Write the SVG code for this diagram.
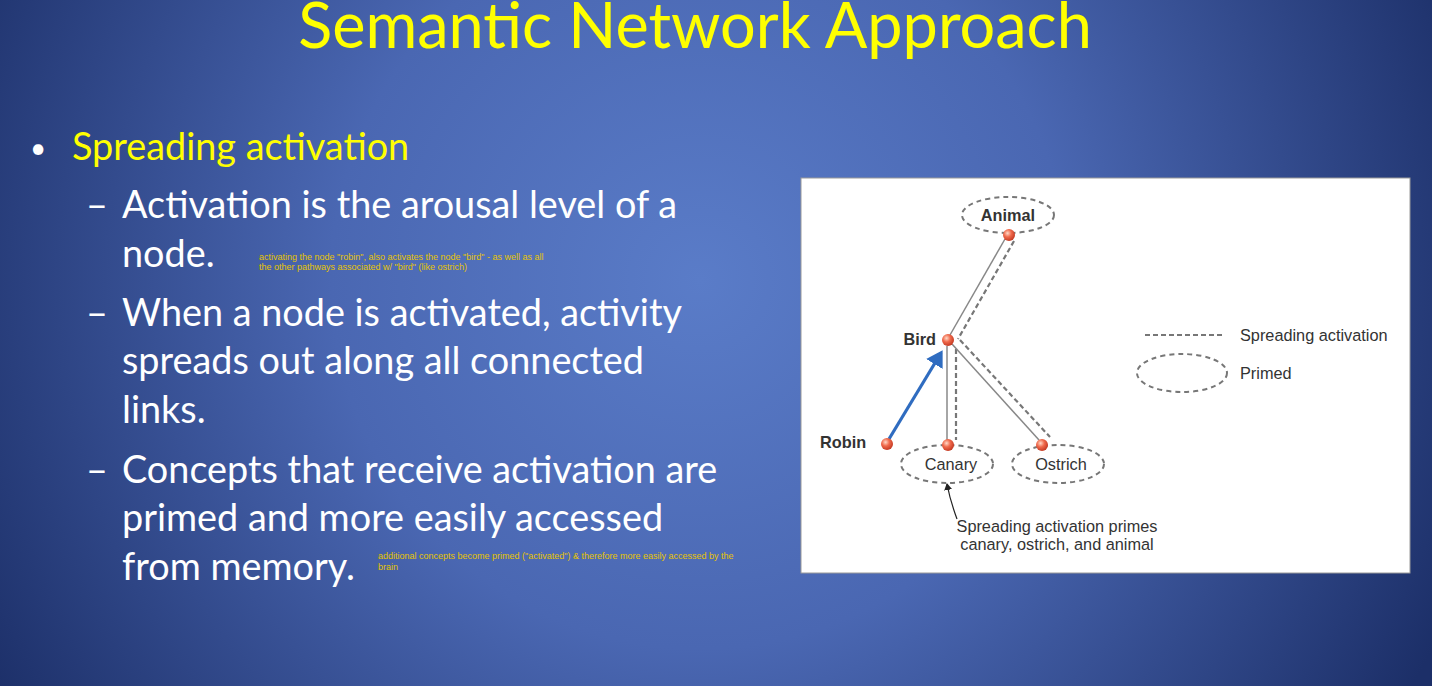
<svg xmlns="http://www.w3.org/2000/svg" width="1432" height="686" viewBox="0 0 1432 686">
<defs>
<radialGradient id="bg" cx="700" cy="280" r="820" gradientUnits="userSpaceOnUse">
<stop offset="0" stop-color="#5a7cc8"/><stop offset="0.45" stop-color="#4a67b2"/><stop offset="1" stop-color="#1c2f68"/>
</radialGradient>
<radialGradient id="dot" cx="0.38" cy="0.35" r="0.7">
<stop offset="0" stop-color="#ffd9c8"/><stop offset="0.45" stop-color="#f06a4c"/><stop offset="1" stop-color="#c0351f"/>
</radialGradient>
<marker id="ah" markerWidth="6" markerHeight="6" refX="4" refY="3" orient="auto" markerUnits="strokeWidth">
<path d="M0,0 L5,3 L0,6 z" fill="#2f6cc0"/></marker>
<marker id="ah2" markerWidth="8" markerHeight="8" refX="6" refY="4" orient="auto" markerUnits="userSpaceOnUse">
<path d="M0,0 L7,4 L0,8 z" fill="#222"/></marker>
</defs>
<style>
.t{font-family:Lato,"Open Sans",sans-serif;fill:#fff;font-size:37.8px}
.y{fill:#ffff00}
.n{font-family:"Liberation Sans",Arial,sans-serif;fill:#e6c400;font-size:9px}
.d{font-family:"Liberation Sans",Arial,sans-serif;fill:#333;font-size:16.3px}
.b{font-weight:bold}
.pr{fill:none;stroke:#777;stroke-width:2;stroke-dasharray:5,4}
.sl{stroke:#888;stroke-width:1.5;fill:none}
.ds{stroke:#777;stroke-width:2.2;stroke-dasharray:5,3;fill:none}
</style>
<rect width="1432" height="686" fill="url(#bg)"/>
<text x="695" y="48" text-anchor="middle" class="t y" style="font-size:63px">Semantic Network Approach</text>
<text x="30" y="158" class="t" style="font-size:28px">•</text>
<text x="72" y="160" class="t y">Spreading activation</text>
<text x="86" y="218" class="t">–</text><text x="122" y="218" class="t">Activation is the arousal level of a</text>
<text x="122" y="267" class="t">node.</text>
<text x="259" y="260" class="n">activating the node "robin", also activates the node "bird" - as well as all</text>
<text x="259" y="270" class="n">the other pathways associated w/ "bird" (like ostrich)</text>
<text x="86" y="326" class="t">–</text><text x="122" y="326" class="t">When a node is activated, activity</text>
<text x="122" y="374" class="t">spreads out along all connected</text>
<text x="122" y="423" class="t">links.</text>
<text x="86" y="483" class="t">–</text><text x="122" y="483" class="t">Concepts that receive activation are</text>
<text x="122" y="531" class="t">primed and more easily accessed</text>
<text x="122" y="580" class="t">from memory.</text>
<text x="378" y="559" class="n">additional concepts become primed ("activated") &amp; therefore more easily accessed by the</text>
<text x="378" y="570" class="n">brain</text>
<rect x="801" y="178" width="609" height="395" fill="#fff" stroke="#999" stroke-width="1"/>
<g id="connectors">
<line x1="1005" y1="239" x2="950" y2="335" class="sl"/>
<line x1="1014" y1="241" x2="958" y2="339" class="ds"/>
<line x1="947" y1="346" x2="947" y2="440" class="sl"/>
<line x1="956" y1="349" x2="956" y2="440" class="ds"/>
<line x1="952" y1="344" x2="1039" y2="440" class="sl"/>
<line x1="960" y1="340" x2="1050" y2="437" class="ds"/>
<line x1="889" y1="439" x2="941" y2="353" stroke="#2f6cc0" stroke-width="3.2" marker-end="url(#ah)"/>
<path d="M957,519 Q950,500 947,484" fill="none" stroke="#222" stroke-width="1.2" marker-end="url(#ah2)"/>
</g>
<g id="animal"><ellipse cx="1008" cy="215" rx="46" ry="18" class="pr"/><text x="1008" y="221" text-anchor="middle" class="d b">Animal</text><circle cx="1009" cy="235" r="6" fill="url(#dot)"/></g>
<g id="bird"><text x="936" y="345" text-anchor="end" class="d b">Bird</text><circle cx="948" cy="340" r="6" fill="url(#dot)"/></g>
<g id="robin"><text x="820" y="448" class="d b">Robin</text><circle cx="887" cy="444" r="6" fill="url(#dot)"/></g>
<g id="canary"><ellipse cx="947" cy="464" rx="46" ry="19" class="pr"/><text x="951" y="470" text-anchor="middle" class="d">Canary</text><circle cx="948" cy="445" r="6" fill="url(#dot)"/></g>
<g id="ostrich"><ellipse cx="1058" cy="464" rx="46" ry="19" class="pr"/><text x="1061" y="470" text-anchor="middle" class="d">Ostrich</text><circle cx="1042" cy="445" r="6" fill="url(#dot)"/></g>
<g id="legend">
<line x1="1145" y1="335" x2="1223" y2="335" class="ds"/>
<text x="1240" y="341" class="d">Spreading activation</text>
<ellipse cx="1182" cy="373" rx="45" ry="19" class="pr"/>
<text x="1240" y="379" class="d">Primed</text>
</g>
<g id="caption">
<text x="1057" y="532" text-anchor="middle" class="d">Spreading activation primes</text>
<text x="1057" y="550" text-anchor="middle" class="d">canary, ostrich, and animal</text>
</g>
</svg>
